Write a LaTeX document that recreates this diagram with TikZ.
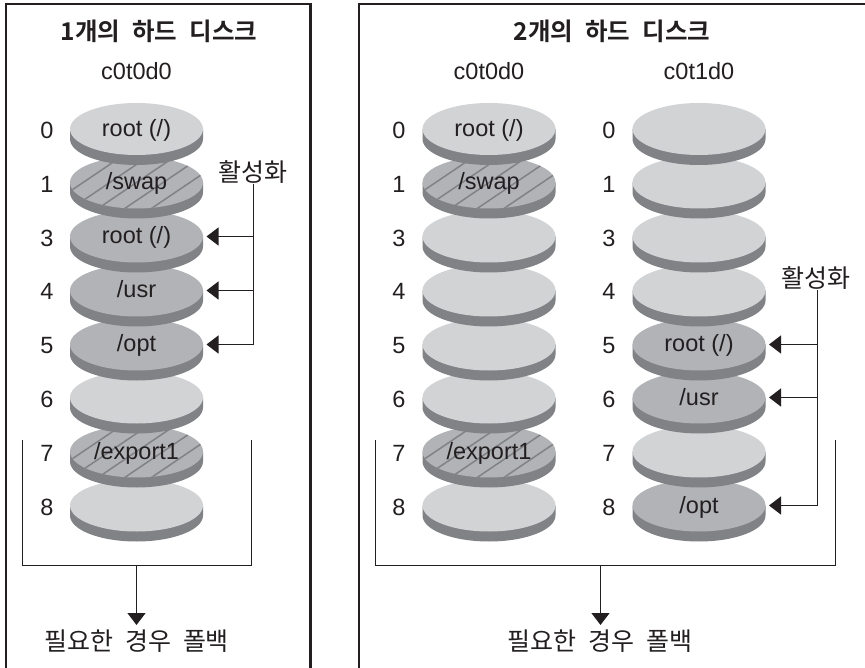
\documentclass[tikz,border=0pt]{standalone}
\usepackage{fontspec}
\setmainfont{Liberation Sans}
\newfontfamily\kr{Noto Sans CJK KR}
\newfontfamily\krb{Noto Sans CJK KR Bold}
\usetikzlibrary{arrows.meta}
\definecolor{facelight}{RGB}{210,211,213}
\definecolor{facemid}{RGB}{177,179,182}
\definecolor{sidegray}{RGB}{128,130,133}
\definecolor{inkc}{RGB}{35,31,32}
\newcommand{\disc}[6]{% name, x, y, face colour, label, hatch(0/1)
  \fill[sidegray] (#2-66.5,-#3) -- (#2-66.5,-#3-10) arc[start angle=180,end angle=360,x radius=66.5,y radius=26] -- (#2+66.5,-#3) -- cycle;
  \fill[#4] (#2,-#3) ellipse[x radius=66.5,y radius=26];
  \ifnum#6=1
  \begin{scope}
    \clip (#2,-#3) ellipse[x radius=66.5,y radius=26];
    \foreach \k in {-5,...,5} \draw[sidegray,line width=1.5] (#2+\k*26.7-40,-#3-27) -- ++(80,54);
  \end{scope}
  \fi
  \node[lbl,anchor=base] (#1) at (#2,-#3-7.5) {#5};
  \coordinate (#1r) at (#2+70,-#3);
}
\newcommand{\gap}{\hspace{12pt}}
\tikzset{x=1pt,y=1pt,
  lbl/.style={text=inkc,font=\fontsize{23.5}{23.5}\selectfont,inner sep=0},
  title/.style={text=inkc,font=\krb\fontsize{24.5}{24.5}\selectfont,inner sep=0},
  ko/.style={text=inkc,font=\kr\fontsize{25}{25}\selectfont,inner sep=0},
  frameline/.style={draw=inkc,line width=2.8},
  wire/.style={draw=inkc,line width=1.3},
  ar/.style={wire,-{Triangle[length=12,width=18]}}}
\begin{document}
\begin{tikzpicture}
\useasboundingbox (0,0) rectangle (865,-668);
\fill[white] (0,0) rectangle (865,-668);
\draw[frameline] (6,-668) -- (6,-4) -- (310.5,-4) -- (310.5,-668);
\draw[frameline] (359,-668) -- (359,-4) -- (865,-4);
\node[title] (t1) at (159,-31) {1개의\gap 하드\gap 디스크};
\node[title] (t2) at (612,-31) {2개의\gap 하드\gap 디스크};
\node[lbl,anchor=base] (h1) at (136.5,-80) {c0t0d0};
\node[lbl,anchor=base] (h2) at (489,-80) {c0t0d0};
\node[lbl,anchor=base] (h3) at (699,-80) {c0t1d0};
% left column
\disc{a8}{136.5}{505.5}{facelight}{}{0}
\disc{a7}{136.5}{451.5}{facemid}{/export1}{1}
\disc{a6}{136.5}{397.5}{facelight}{}{0}
\disc{a5}{136.5}{344.5}{facemid}{/opt}{0}
\disc{a4}{136.5}{290.5}{facemid}{/usr}{0}
\disc{a3}{136.5}{236.5}{facemid}{root (/)}{0}
\disc{a1}{136.5}{182.5}{facemid}{/swap}{1}
\disc{a0}{136.5}{129}{facelight}{root (/)}{0}
% middle column
\disc{b8}{489}{505.5}{facelight}{}{0}
\disc{b7}{489}{451.5}{facemid}{/export1}{1}
\disc{b6}{489}{397.5}{facelight}{}{0}
\disc{b5}{489}{344.5}{facelight}{}{0}
\disc{b4}{489}{290.5}{facelight}{}{0}
\disc{b3}{489}{236.5}{facelight}{}{0}
\disc{b1}{489}{182.5}{facemid}{/swap}{1}
\disc{b0}{489}{129}{facelight}{root (/)}{0}
% right column
\disc{c8}{699}{505.5}{facemid}{/opt}{0}
\disc{c7}{699}{451.5}{facelight}{}{0}
\disc{c6}{699}{397.5}{facemid}{/usr}{0}
\disc{c5}{699}{344.5}{facemid}{root (/)}{0}
\disc{c4}{699}{290.5}{facelight}{}{0}
\disc{c3}{699}{236.5}{facelight}{}{0}
\disc{c1}{699}{182.5}{facelight}{}{0}
\disc{c0}{699}{129}{facelight}{}{0}
% row numbers
\foreach \n/\r in {0/139,1/192.7,3/246.4,4/300,5/353.8,6/407.5,7/461.2,8/515} {
  \node[lbl,anchor=base] (na\n) at (47,-\r) {\n};
  \node[lbl,anchor=base] (nb\n) at (399,-\r) {\n};
  \node[lbl,anchor=base] (nc\n) at (609,-\r) {\n};
}
% activation labels and arrows
\node[ko] (act1) at (253,-172) {활성화};
\node[ko] (act2) at (816,-278) {활성화};
\coordinate (j1a) at (253.5,-236.5); \coordinate (j1b) at (253.5,-290.5);
\coordinate (j2a) at (817.5,-344.5); \coordinate (j2b) at (817.5,-397.5);
\draw[wire] (act1.south -| j1a) -- (j1a |- a5r);
\draw[ar] (j1a |- a5r) -- (a5r);
\draw[ar] (j1a) -- (a3r);
\draw[ar] (j1b) -- (a4r);
\draw[wire] (act2.south -| j2a) -- (j2a |- c8r);
\draw[ar] (j2a |- c8r) -- (c8r);
\draw[ar] (j2a) -- (c5r);
\draw[ar] (j2b) -- (c6r);
% fallback brackets
\coordinate (k1) at (136.5,-565.5); \coordinate (k2) at (600.5,-565.5);
\draw[wire] (22.5,-440) -- (22.5,-565.5) -- (251.5,-565.5) -- (251.5,-440);
\draw[wire] (375.5,-440) -- (375.5,-565.5) -- (835.5,-565.5) -- (835.5,-440);
\node[ko] (f1) at (136.5,-641) {필요한\gap 경우\gap 폴백};
\node[ko] (f2) at (600,-641) {필요한\gap 경우\gap 폴백};
\draw[ar] (k1) -- (136.5,-625);
\draw[ar] (k2) -- (600.5,-625);
\end{tikzpicture}
\end{document}
